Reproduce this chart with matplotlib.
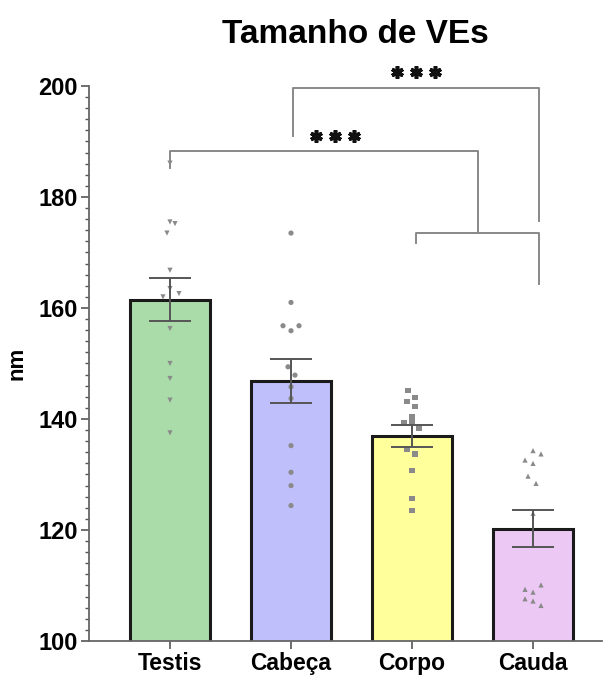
import numpy as np
import matplotlib
matplotlib.use("Agg")
import matplotlib.pyplot as plt
from matplotlib.ticker import MultipleLocator

plt.rcParams['font.family'] = ['Liberation Sans', 'DejaVu Sans']
plt.rcParams['font.weight'] = 'bold'

# Vesicle size per sample (nm)
categories = ["Testis", "Cabeça", "Corpo", "Cauda"]
testis = [186.1, 175.5, 175.2, 173.5, 166.8, 163.5, 162.6, 162.0, 156.3, 150.0, 147.3, 143.4, 137.5]
cabeca = [173.5, 161.0, 156.8, 156.8, 155.9, 149.4, 147.9, 145.8, 143.7, 135.2, 130.4, 128.0, 124.4]
corpo = [145.2, 143.9, 143.1, 142.2, 140.4, 139.5, 139.3, 138.3, 134.5, 133.7, 130.7, 125.7, 123.5]
cauda = [134.3, 133.7, 132.6, 132.0, 129.7, 128.4, 123.0, 110.1, 109.3, 108.8, 107.6, 107.2, 106.4]
groups = [testis, cabeca, corpo, cauda]

# horizontal scatter of the individual points (in pixels of spread)
jitter_px = [
    [0, 0, 5, -3, 0, 0, 9, -7, 0, 0, 0, 0, 0],
    [0, 0, -8, 8, 0, -3, 4, 0, 0, 0, 0, 0, 0],
    [-4, 3, -5, 3, 0, 0, -8, 7, -5, 3, 0, 0, 0],
    [0, 8, -8, 0, -5, 3, 0, 8, -8, 0, -8, 0, 8],
]

bar_colors = ["#aadcaa", "#bfbffb", "#ffff9b", "#ecc8f4"]
markers = ["v", "o", "s", "^"]

means = [np.mean(g) for g in groups]
sems = [np.std(g, ddof=1) / np.sqrt(len(g)) for g in groups]

fig = plt.figure(figsize=(6.09, 6.77), dpi=100)
ax = fig.add_axes([0.146, 0.0532, 0.8425, 0.8198])

x = np.arange(len(categories))
px_per_unit = 121.0

ax.bar(x, means, width=0.66, color=bar_colors, edgecolor="#1a1a1a",
       linewidth=2.2, zorder=1)

for i, g in enumerate(groups):
    xs = x[i] + np.array(jitter_px[i]) / px_per_unit
    ax.scatter(xs, g, marker=markers[i], s=14, color="#8a8a8a",
               edgecolors="none", zorder=3, clip_on=False)

ax.errorbar(x, means, yerr=sems, fmt="none", ecolor="#555555",
            elinewidth=1.4, capsize=15, capthick=1.4, zorder=4)

ax.set_xlim(-0.67, 3.57)
ax.set_ylim(100, 200)
ax.yaxis.set_major_locator(MultipleLocator(20))
ax.yaxis.set_minor_locator(MultipleLocator(2))
ax.set_xticks(x)
ax.set_xticklabels(categories, fontsize=16.5, fontweight="bold")
ax.tick_params(axis="y", which="major", labelsize=17, length=6, width=1.2,
               color="#555555", pad=2)
ax.tick_params(axis="y", which="minor", length=3, width=1.0, color="#555555")
ax.tick_params(axis="x", length=6, width=1.2, color="#555555", pad=2)
for lbl in ax.get_yticklabels():
    lbl.set_fontweight("bold")

for side in ["top", "right"]:
    ax.spines[side].set_visible(False)
for side in ["left", "bottom"]:
    ax.spines[side].set_color("#666666")
    ax.spines[side].set_linewidth(1.3)

ax.set_ylabel("nm", fontsize=16, fontweight="bold", labelpad=8)
fig.text(0.583, 0.949, "Tamanho de VEs", ha="center", va="center",
         fontsize=24, fontweight="bold")

# significance brackets
br = dict(color="#888888", linewidth=1.4, clip_on=False, zorder=5)
# Corpo vs Cauda joint bracket
ax.plot([2.03, 2.03, 3.05, 3.05], [171.7, 173.6, 173.6, 164.3], **br)
# Testis vs (Corpo, Cauda)
ax.plot([0.0, 0.0, 2.545, 2.545], [185.2, 188.2, 188.2, 173.6], **br)
# Cabeça vs Cauda
ax.plot([1.02, 1.02, 3.05, 3.05], [191.0, 199.6, 199.6, 175.6], **br)

star = dict(marker=(6, 2, 0), markersize=9, markeredgewidth=2.6,
            color="#111111", linestyle="none", clip_on=False, zorder=6)
ax.plot(np.array([-1, 0, 1]) * 19 / px_per_unit + 2.03, [202.6] * 3, **star)
ax.plot(np.array([-1, 0, 1]) * 19 / px_per_unit + 1.36, [191.0] * 3, **star)

fig.savefig("out.png", dpi=100)
